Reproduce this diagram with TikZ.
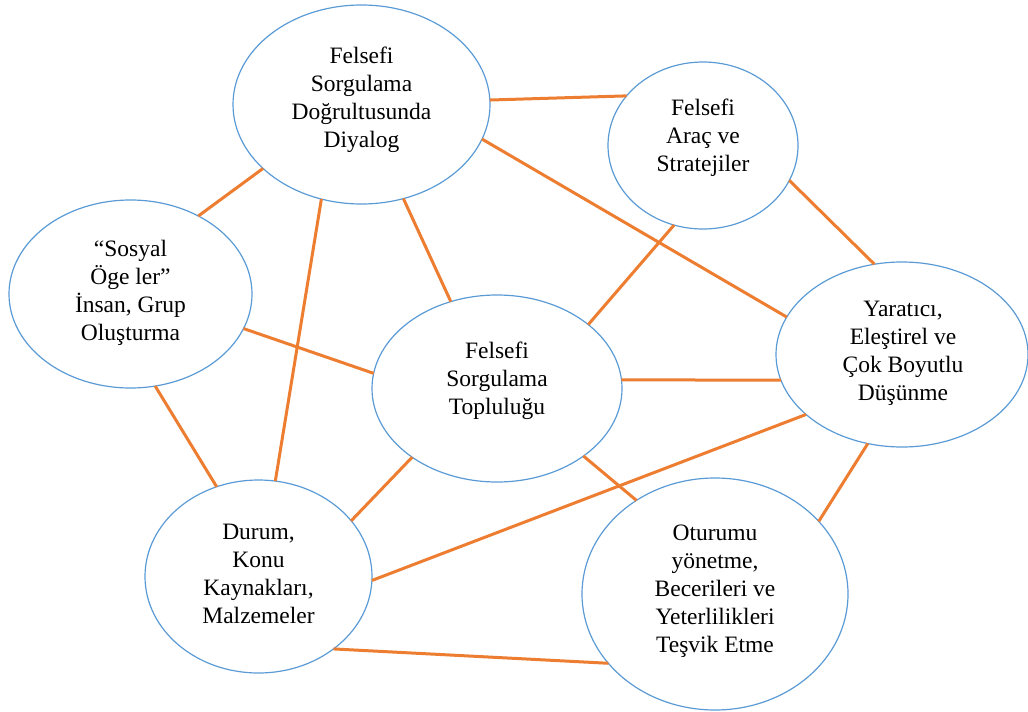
\documentclass[tikz,border=0pt]{standalone}
\usepackage{fontspec}
\setmainfont{Liberation Serif}
\usetikzlibrary{shapes.geometric}
\definecolor{ellblue}{RGB}{91,155,213}
\definecolor{linkorange}{RGB}{237,125,49}
\begin{document}
\begin{tikzpicture}[x=1pt,y=-1pt,
  bubble/.style={ellipse,draw=ellblue,line width=1.2pt,fill=white,inner sep=0pt,outer sep=0pt},
  label/.style={align=center,font=\fontsize{23.5}{28}\selectfont,text=black,inner sep=0pt},
  link/.style={draw=linkorange,line width=3pt}]
\useasboundingbox (0,0) rectangle (1028,712);
% ellipses
\node[bubble,minimum width=257pt,minimum height=199pt] (A) at (361.5,104.5) {};
\node[bubble,minimum width=190pt,minimum height=167pt] (B) at (703,145.5) {};
\node[bubble,minimum width=243pt,minimum height=188pt] (C) at (130.5,294) {};
\node[bubble,minimum width=250pt,minimum height=187pt] (D) at (497,388.5) {};
\node[bubble,minimum width=252pt,minimum height=185pt] (E) at (902,354.5) {};
\node[bubble,minimum width=227pt,minimum height=193pt] (F) at (258.5,576.5) {};
\node[bubble,minimum width=266pt,minimum height=232pt] (G) at (715,594) {};
% connectors
\draw[link] (A.2) -- (B.147.1);
\draw[link] (A.-16) -- (E.162.2);
\draw[link] (A.-147.5) -- (C.49.9);
\draw[link] (A.-113) -- (F.80.1);
\draw[link] (A.-66.9) -- (D.118.5);
\draw[link] (B.-22.8) -- (E.107.6);
\draw[link] (B.-110) -- (D.35.2);
\draw[link] (C.-17) -- (D.173.8);
\draw[link] (C.-75.2) -- (F.115.9);
\draw[link] (D.4.3) -- (E.-168.6);
\draw[link] (D.-141.8) -- (F.31.1);
\draw[link] (D.-38.9) -- (G.130.7);
\draw[link] (E.-148.6) -- (F.-2.3);
\draw[link] (E.-111.1) -- (G.35);
\draw[link] (F.-44.6) -- (G.-147.6);
% texts
\node[label] (tA) at (361.5,99.5) {Felsefi\\Sorgulama\\Doğrultusunda\\Diyalog};
\node[label] (tB) at (703,138) {Felsefi\\Araç ve\\Stratejiler};
\node[label] (tC) at (130.5,292.5) {“Sosyal\\Öge ler”\\İnsan, Grup\\Oluşturma};
\node[label] (tD) at (497,381) {Felsefi\\Sorgulama\\Topluluğu};
\node[label] (tE) at (903,353) {Yaratıcı,\\Eleştirel ve\\Çok Boyutlu\\Düşünme};
\node[label] (tF) at (258.5,573.5) {Durum,\\Konu\\Kaynakları,\\Malzemeler};
\node[label] (tG) at (715,591) {Oturumu\\yönetme,\\Becerileri ve\\Yeterlilikleri\\Teşvik Etme};
\end{tikzpicture}
\end{document}
